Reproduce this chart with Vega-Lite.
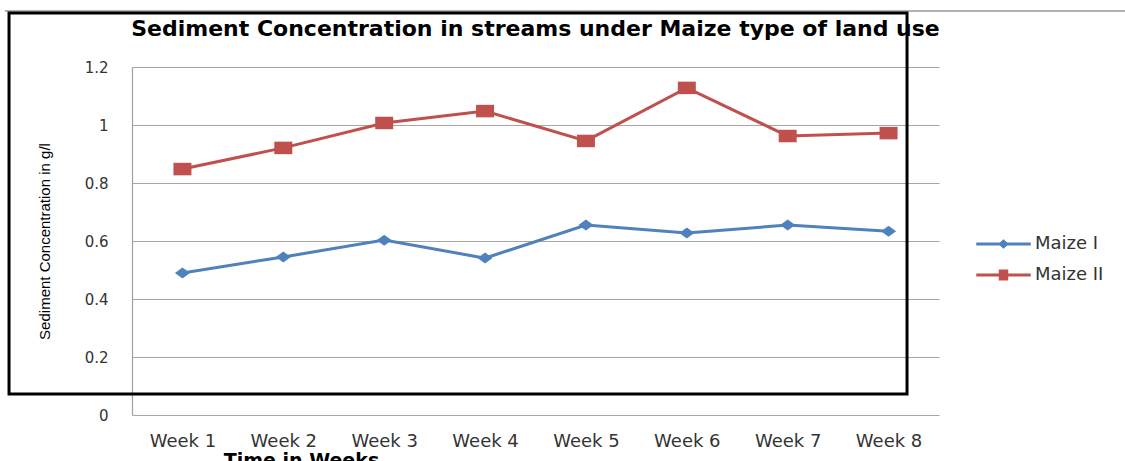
{
  "$schema": "https://vega.github.io/schema/vega-lite/v6.json",
  "width": 807,
  "height": 348,
  "autosize": {"type": "none"},
  "padding": {"left": 132, "top": 67, "right": 186, "bottom": 46},
  "background": "white",
  "config": {"view": {"stroke": null}},
  "title": {
    "text": "Sediment Concentration in streams under Maize type of land use",
    "font": "DejaVu Sans",
    "fontSize": 22,
    "fontWeight": "bold",
    "color": "#000000",
    "anchor": "middle",
    "baseline": "alphabetic",
    "offset": 0,
    "dy": 48
  },
  "layer": [
    {
      "data": {"values": [{}]},
      "mark": {"type": "rule", "color": "#999999", "strokeWidth": 1.5},
      "encoding": {
        "x": {"datum": -0.76},
        "x2": {"datum": 10.4},
        "y": {"datum": 1.393}
      }
    },
    {
      "data": {"values": [
        {"week": 1, "series": "Maize I", "value": 0.49},
        {"week": 2, "series": "Maize I", "value": 0.545},
        {"week": 3, "series": "Maize I", "value": 0.603},
        {"week": 4, "series": "Maize I", "value": 0.541},
        {"week": 5, "series": "Maize I", "value": 0.655},
        {"week": 6, "series": "Maize I", "value": 0.628},
        {"week": 7, "series": "Maize I", "value": 0.655},
        {"week": 8, "series": "Maize I", "value": 0.634},
        {"week": 1, "series": "Maize II", "value": 0.848},
        {"week": 2, "series": "Maize II", "value": 0.921},
        {"week": 3, "series": "Maize II", "value": 1.007},
        {"week": 4, "series": "Maize II", "value": 1.048},
        {"week": 5, "series": "Maize II", "value": 0.945},
        {"week": 6, "series": "Maize II", "value": 1.128},
        {"week": 7, "series": "Maize II", "value": 0.962},
        {"week": 8, "series": "Maize II", "value": 0.972}
      ]},
      "layer": [
        {
          "mark": {"type": "line", "strokeWidth": 3},
          "encoding": {
            "x": {
              "field": "week",
              "type": "quantitative",
              "scale": {"domain": [0.5, 8.5], "nice": false, "zero": false},
              "axis": {
                "values": [1, 2, 3, 4, 5, 6, 7, 8],
                "labelExpr": "'Week ' + datum.value",
                "grid": false,
                "domain": false,
                "ticks": false,
                "tickSize": 0,
                "labelFlush": false,
                "labelOverlap": false,
                "labelFont": "DejaVu Sans",
                "labelFontSize": 18,
                "labelColor": "#333333",
                "labelBaseline": "alphabetic",
                "labelPadding": 31,
                "title": "Time in Weeks",
                "titleFont": "DejaVu Sans",
                "titleFontSize": 19,
                "titleFontWeight": "bold",
                "titleColor": "#000000",
                "titleX": 169,
                "titleY": 51,
                "titleAlign": "center",
                "titleBaseline": "alphabetic"
              }
            },
            "y": {
              "field": "value",
              "type": "quantitative",
              "scale": {"domain": [0, 1.2], "nice": false, "zero": false},
              "axis": {
                "values": [0, 0.2, 0.4, 0.6, 0.8, 1, 1.2],
                "format": "~g",
                "grid": true,
                "gridColor": "#a6a6a6",
                "gridWidth": 1.2,
                "domain": true,
                "domainColor": "#a0a0a0",
                "domainWidth": 1.2,
                "ticks": false,
                "tickSize": 0,
                "labelFont": "DejaVu Sans",
                "labelFontSize": 15,
                "labelColor": "#333333",
                "labelPadding": 24,
                "title": "Sediment Concentration in g/l",
                "titleFont": "Liberation Sans",
                "titleFontSize": 15,
                "titleFontWeight": "normal",
                "titleColor": "#000000",
                "titleAngle": -90,
                "titleX": -88,
                "titleY": 174,
                "titleAlign": "center",
                "titleBaseline": "middle"
              }
            },
            "color": {
              "field": "series",
              "type": "nominal",
              "scale": {"domain": ["Maize I", "Maize II"], "range": ["#4F81BD", "#C0504D"]},
              "legend": {
                "orient": "none",
                "legendX": 862.5,
                "legendY": 168,
                "title": null,
                "padding": 0,
                "symbolSize": 100,
                "symbolType": {"expr": "datum.value === 'Maize I' ? 'M-5.3,-0.15H5.3V0.15H-5.3Z M-0.85,0L0,-0.75L0.85,0L0,0.75Z' : 'M-5.3,-0.15H5.3V0.15H-5.3Z M-0.8,-0.95H0.8V0.95H-0.8Z'"},
                "symbolFillColor": {"expr": "datum.value === 'Maize I' ? '#4F81BD' : '#C0504D'"},
                "symbolStrokeWidth": 1.5,
                "labelOffset": 22.5,
                "rowPadding": 13,
                "labelFont": "DejaVu Sans",
                "labelFontSize": 18,
                "labelColor": "#333333",
                "symbolOpacity": 1
              }
            }
          }
        },
        {
          "transform": [{"filter": "datum.series === 'Maize I'"}],
          "mark": {"type": "point", "filled": true, "opacity": 1, "size": 100, "color": "#4F81BD", "shape": "M-1.5,0L0,-1.1L1.5,0L0,1.1Z"},
          "encoding": {
            "x": {"field": "week", "type": "quantitative"},
            "y": {"field": "value", "type": "quantitative"}
          }
        },
        {
          "transform": [{"filter": "datum.series === 'Maize II'"}],
          "mark": {"type": "point", "filled": true, "opacity": 1, "size": 100, "color": "#C0504D", "shape": "M-1.8,-1.25H1.8V1.25H-1.8Z"},
          "encoding": {
            "x": {"field": "week", "type": "quantitative"},
            "y": {"field": "value", "type": "quantitative"}
          }
        }
      ]
    },
    {
      "data": {"values": [{}]},
      "mark": {"type": "rect", "fill": "transparent", "stroke": "#000000", "strokeWidth": 3},
      "encoding": {
        "x": {"datum": -0.719},
        "x2": {"datum": 8.183},
        "y": {"datum": 1.386},
        "y2": {"datum": 0.0724}
      }
    }
  ]
}
